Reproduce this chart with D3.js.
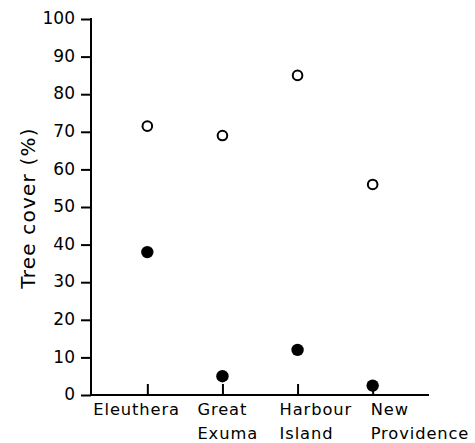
<!DOCTYPE html>
<html><head><meta charset="utf-8">
<script src="https://cdn.jsdelivr.net/npm/d3@7"></script>
<style>body{margin:0;background:#fff}svg{display:block}</style>
</head><body>
<script>
const categories = ["Eleuthera", "Great Exuma", "Harbour Island", "New Providence"];
const openValues = [71.5, 69, 85, 56];
const filledValues = [38, 5, 12, 2.5];
const yTicks = [0, 10, 20, 30, 40, 50, 60, 70, 80, 90, 100];
const yLabel = "Tree cover (%)";

const W = 475, H = 443;
const font = "'DejaVu Sans', sans-serif";
const svg = d3.select("body").append("svg").attr("width", W).attr("height", H);

const y = d3.scaleLinear().domain([0, 100]).range([395, 19]);
const x = d3.scalePoint().domain(categories).range([91, 429]).padding(0.75);
const axisX = 91;

// y axis
const gy = svg.append("g").attr("transform", `translate(${axisX},0)`)
  .call(d3.axisLeft(y).tickValues(yTicks).tickSizeInner(10).tickSizeOuter(0).tickPadding(6));
gy.select(".domain").attr("stroke", "#000").attr("stroke-width", 2)
  .attr("d", `M0,${y(0)+1}V${y(100)-1}`);
gy.selectAll(".tick line").attr("stroke", "#000").attr("stroke-width", 2);
gy.selectAll(".tick text").attr("font-family", font).attr("font-size", 17).attr("fill", "#000")
  .attr("dy", "0.28em");

// x axis
const gx = svg.append("g").attr("transform", `translate(0,${y(0)})`)
  .call(d3.axisBottom(x).tickSizeInner(-11).tickSizeOuter(0).tickFormat(""));
gx.select(".domain").attr("stroke", "#000").attr("stroke-width", 2)
  .attr("d", `M${axisX-1},0H429`);
gx.selectAll(".tick line").attr("stroke", "#000").attr("stroke-width", 2);

// category labels (two lines)
const labelOffsets = [-54, -25, -18, -2];
const lab = svg.append("g");
categories.forEach((c, i) => {
  const words = c.split(" ");
  const t = lab.append("text")
    .attr("x", x(c) + labelOffsets[i]).attr("y", 414.5)
    .attr("font-family", font).attr("font-size", 16.3).attr("letter-spacing", 0.9)
    .attr("fill", "#000");
  words.forEach((w, j) => {
    t.append("tspan").attr("x", x(c) + labelOffsets[i]).attr("dy", j === 0 ? 0 : 24.5).text(w);
  });
});

// y label
svg.append("text")
  .attr("transform", `translate(35,${(y(0)+y(100))/2 + 1}) rotate(-90)`)
  .attr("text-anchor", "middle")
  .attr("font-family", font).attr("font-size", 20).attr("letter-spacing", 1.2)
  .attr("fill", "#000").text(yLabel);

// points
svg.append("g").selectAll("circle").data(categories).join("circle")
  .attr("cx", d => x(d)).attr("cy", (d, i) => y(openValues[i]))
  .attr("r", 4.8).attr("fill", "#fff").attr("stroke", "#000").attr("stroke-width", 2);
svg.append("g").selectAll("circle").data(categories).join("circle")
  .attr("cx", d => x(d)).attr("cy", (d, i) => y(filledValues[i]))
  .attr("r", 6.2).attr("fill", "#000");
</script>
</body></html>
